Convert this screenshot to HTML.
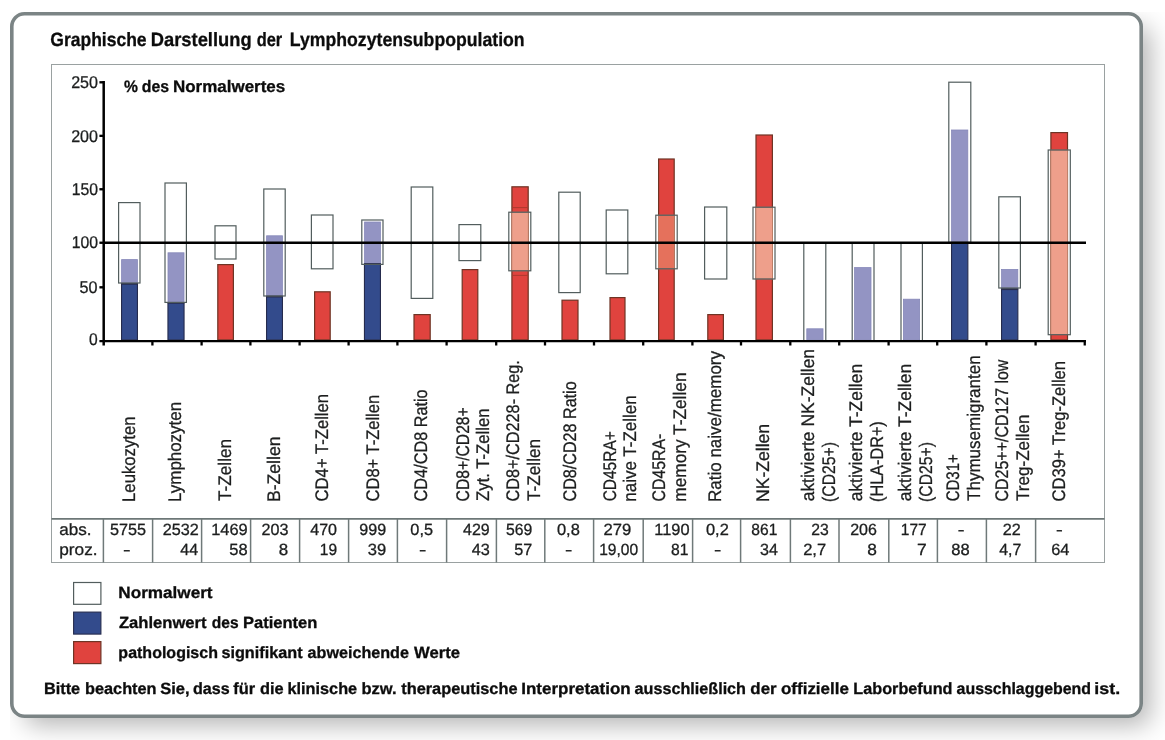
<!DOCTYPE html>
<html lang="de"><head><meta charset="utf-8"><title>Graphische Darstellung der Lymphozytensubpopulation</title>
<style>
html,body{margin:0;padding:0;background:#fff;}
body{width:1165px;height:740px;overflow:hidden;position:relative;font-family:"Liberation Sans", sans-serif;}
#frame{position:absolute;left:10px;top:12px;width:1133px;height:706px;box-sizing:border-box;border-radius:14.5px;background:#fff;box-shadow:11px 11px 26px -4px rgba(0,0,0,0.30);clip-path:inset(0px -40px -40px 0px);}
svg{position:absolute;left:0;top:0;}
text{font-family:"Liberation Sans", sans-serif;fill:#1c1e1e;stroke:#1c1e1e;stroke-width:0.3px;text-rendering:geometricPrecision;}
text.b{font-weight:bold;stroke-width:0.3px;fill:#0c0c0c;stroke:#0c0c0c;}
</style></head><body>
<div id="frame"></div>
<svg width="1165" height="740" viewBox="0 0 1165 740">

<rect x="11.8" y="13.8" width="1129.4" height="702.4" rx="12.7" ry="12.7" fill="#fff" stroke="#7b8485" stroke-width="3.6"/>
<rect x="51.5" y="64.5" width="1053" height="498" fill="none" stroke="#9aa1a1" stroke-width="1"/>
<text class="b" y="45.6" font-size="19.3"><tspan x="50.30" textLength="96.31" lengthAdjust="spacingAndGlyphs">Graphische</tspan> <tspan x="150.81" textLength="100.80" lengthAdjust="spacingAndGlyphs">Darstellung</tspan> <tspan x="256.75" textLength="25.48" lengthAdjust="spacingAndGlyphs">der</tspan> <tspan x="289.85" textLength="234.82" lengthAdjust="spacingAndGlyphs">Lymphozytensubpopulation</tspan></text>
<text class="b" y="91.5" font-size="16.6"><tspan x="124.05" textLength="13.93" lengthAdjust="spacingAndGlyphs">%</tspan> <tspan x="141.77" textLength="27.24" lengthAdjust="spacingAndGlyphs">des</tspan> <tspan x="172.90" textLength="112.37" lengthAdjust="spacingAndGlyphs">Normalwertes</tspan></text>
<rect x="121.60" y="259.60" width="15.80" height="23.80" fill="#9394c3" stroke="#8587b8" stroke-width="0.8"/>
<rect x="121.55" y="283.55" width="15.90" height="56.35" fill="#334b8c" stroke="#252b4d" stroke-width="1.1"/>
<line x1="121.30" y1="283.85" x2="137.70" y2="283.85" stroke="#2a2d4d" stroke-width="1.7"/>
<rect x="118.60" y="202.60" width="21.40" height="80.40" fill="none" stroke="#525d5d" stroke-width="1.2"/>
<rect x="168.00" y="252.80" width="16.00" height="49.60" fill="#9394c3" stroke="#8587b8" stroke-width="0.8"/>
<rect x="167.95" y="302.55" width="16.10" height="37.35" fill="#334b8c" stroke="#252b4d" stroke-width="1.1"/>
<line x1="167.70" y1="302.85" x2="184.30" y2="302.85" stroke="#2a2d4d" stroke-width="1.7"/>
<rect x="165.00" y="183.00" width="21.40" height="119.40" fill="none" stroke="#525d5d" stroke-width="1.2"/>
<rect x="217.80" y="264.60" width="15.60" height="75.30" fill="#e0433e" stroke="#6e3425" stroke-width="1.2"/>
<rect x="215.00" y="225.80" width="21.00" height="33.20" fill="none" stroke="#525d5d" stroke-width="1.2"/>
<rect x="266.60" y="235.80" width="15.80" height="60.40" fill="#9394c3" stroke="#8587b8" stroke-width="0.8"/>
<rect x="266.55" y="296.35" width="15.90" height="43.55" fill="#334b8c" stroke="#252b4d" stroke-width="1.1"/>
<line x1="266.30" y1="296.65" x2="282.70" y2="296.65" stroke="#2a2d4d" stroke-width="1.7"/>
<rect x="263.80" y="189.00" width="21.40" height="107.00" fill="none" stroke="#525d5d" stroke-width="1.2"/>
<rect x="314.60" y="291.80" width="15.60" height="48.10" fill="#e0433e" stroke="#6e3425" stroke-width="1.2"/>
<rect x="311.40" y="215.00" width="21.60" height="53.80" fill="none" stroke="#525d5d" stroke-width="1.2"/>
<rect x="364.60" y="222.00" width="15.80" height="42.00" fill="#9394c3" stroke="#8587b8" stroke-width="0.8"/>
<rect x="364.45" y="263.85" width="16.00" height="76.05" fill="#334b8c" stroke="#252b4d" stroke-width="1.1"/>
<line x1="364.20" y1="264.15" x2="380.70" y2="264.15" stroke="#2a2d4d" stroke-width="1.7"/>
<rect x="361.80" y="220.00" width="21.20" height="44.40" fill="none" stroke="#525d5d" stroke-width="1.2"/>
<rect x="414.00" y="314.60" width="16.20" height="25.30" fill="#e0433e" stroke="#6e3425" stroke-width="1.2"/>
<rect x="411.20" y="187.00" width="21.60" height="111.40" fill="none" stroke="#525d5d" stroke-width="1.2"/>
<rect x="462.20" y="269.60" width="15.60" height="70.30" fill="#e0433e" stroke="#6e3425" stroke-width="1.2"/>
<rect x="459.00" y="224.60" width="21.80" height="36.00" fill="none" stroke="#525d5d" stroke-width="1.2"/>
<rect x="511.90" y="186.80" width="16.30" height="153.10" fill="#e0433e" stroke="#6e3425" stroke-width="1.2"/>
<line x1="512.3" y1="207.6" x2="527.8" y2="207.6" stroke="#a8382c" stroke-width="0.9"/>
<line x1="512.3" y1="275.4" x2="527.8" y2="275.4" stroke="#a8382c" stroke-width="0.9"/>
<rect x="511.90" y="212.20" width="16.30" height="58.60" fill="#ee9f8b" stroke="#c4876f" stroke-width="0.8"/>
<rect x="508.80" y="212.20" width="22.00" height="58.60" fill="none" stroke="#525d5d" stroke-width="1.2"/>
<rect x="562.00" y="300.20" width="16.00" height="39.70" fill="#e0433e" stroke="#6e3425" stroke-width="1.2"/>
<rect x="558.80" y="192.20" width="21.40" height="100.40" fill="none" stroke="#525d5d" stroke-width="1.2"/>
<rect x="610.00" y="297.60" width="15.00" height="42.30" fill="#e0433e" stroke="#6e3425" stroke-width="1.2"/>
<rect x="606.20" y="210.00" width="21.60" height="63.80" fill="none" stroke="#525d5d" stroke-width="1.2"/>
<rect x="658.60" y="159.00" width="15.60" height="180.90" fill="#e0433e" stroke="#6e3425" stroke-width="1.2"/>
<rect x="658.60" y="215.20" width="15.60" height="53.60" fill="#e5715c" stroke="#c4876f" stroke-width="0.8"/>
<rect x="655.80" y="215.20" width="21.40" height="53.60" fill="none" stroke="#525d5d" stroke-width="1.2"/>
<rect x="707.80" y="314.60" width="15.60" height="25.30" fill="#e0433e" stroke="#6e3425" stroke-width="1.2"/>
<rect x="704.60" y="207.00" width="22.20" height="72.00" fill="none" stroke="#525d5d" stroke-width="1.2"/>
<rect x="756.00" y="135.00" width="16.40" height="204.90" fill="#e0433e" stroke="#6e3425" stroke-width="1.2"/>
<rect x="756.00" y="207.20" width="16.40" height="71.80" fill="#ee9f8b" stroke="#c4876f" stroke-width="0.8"/>
<rect x="753.00" y="207.20" width="22.00" height="71.80" fill="none" stroke="#525d5d" stroke-width="1.2"/>
<rect x="806.80" y="328.80" width="16.20" height="11.10" fill="#9394c3" stroke="#8587b8" stroke-width="0.8"/>
<rect x="803.80" y="242.60" width="22.00" height="98.00" fill="none" stroke="#525d5d" stroke-width="1.2"/>
<rect x="854.60" y="267.60" width="16.40" height="72.30" fill="#9394c3" stroke="#8587b8" stroke-width="0.8"/>
<rect x="852.20" y="242.60" width="21.80" height="98.00" fill="none" stroke="#525d5d" stroke-width="1.2"/>
<rect x="903.40" y="299.20" width="16.20" height="40.70" fill="#9394c3" stroke="#8587b8" stroke-width="0.8"/>
<rect x="901.00" y="242.60" width="21.40" height="98.00" fill="none" stroke="#525d5d" stroke-width="1.2"/>
<rect x="951.60" y="130.00" width="16.20" height="112.00" fill="#9394c3" stroke="#8587b8" stroke-width="0.8"/>
<rect x="951.55" y="242.55" width="16.30" height="97.35" fill="#334b8c" stroke="#252b4d" stroke-width="1.1"/>
<line x1="951.30" y1="242.85" x2="968.10" y2="242.85" stroke="#2a2d4d" stroke-width="1.7"/>
<rect x="948.80" y="82.20" width="22.00" height="160.20" fill="none" stroke="#525d5d" stroke-width="1.2"/>
<rect x="1001.60" y="269.40" width="16.20" height="19.40" fill="#9394c3" stroke="#8587b8" stroke-width="0.8"/>
<rect x="1001.55" y="288.95" width="16.30" height="50.95" fill="#334b8c" stroke="#252b4d" stroke-width="1.1"/>
<line x1="1001.30" y1="289.25" x2="1018.10" y2="289.25" stroke="#2a2d4d" stroke-width="1.7"/>
<rect x="998.80" y="196.80" width="21.60" height="91.20" fill="none" stroke="#525d5d" stroke-width="1.2"/>
<rect x="1050.90" y="132.60" width="16.60" height="207.30" fill="#e0433e" stroke="#6e3425" stroke-width="1.2"/>
<rect x="1050.90" y="150.00" width="16.60" height="184.70" fill="#ee9f8b" stroke="#c4876f" stroke-width="0.8"/>
<rect x="1048.20" y="150.00" width="22.10" height="184.70" fill="none" stroke="#525d5d" stroke-width="1.2"/>
<line x1="103" y1="242.75" x2="1086" y2="242.75" stroke="#000" stroke-width="2.5"/>
<line x1="103.7" y1="81.1" x2="103.7" y2="345.5" stroke="#000" stroke-width="2.5"/>
<line x1="99.4" y1="341.05" x2="1085.9" y2="341.05" stroke="#000" stroke-width="2.35"/>
<line x1="152.40" y1="340" x2="152.40" y2="345.5" stroke="#000" stroke-width="2.3"/>
<line x1="201.60" y1="340" x2="201.60" y2="345.5" stroke="#000" stroke-width="2.3"/>
<line x1="250.40" y1="340" x2="250.40" y2="345.5" stroke="#000" stroke-width="2.3"/>
<line x1="299.60" y1="340" x2="299.60" y2="345.5" stroke="#000" stroke-width="2.3"/>
<line x1="348.60" y1="340" x2="348.60" y2="345.5" stroke="#000" stroke-width="2.3"/>
<line x1="397.40" y1="340" x2="397.40" y2="345.5" stroke="#000" stroke-width="2.3"/>
<line x1="446.60" y1="340" x2="446.60" y2="345.5" stroke="#000" stroke-width="2.3"/>
<line x1="496.20" y1="340" x2="496.20" y2="345.5" stroke="#000" stroke-width="2.3"/>
<line x1="545.00" y1="340" x2="545.00" y2="345.5" stroke="#000" stroke-width="2.3"/>
<line x1="594.00" y1="340" x2="594.00" y2="345.5" stroke="#000" stroke-width="2.3"/>
<line x1="643.20" y1="340" x2="643.20" y2="345.5" stroke="#000" stroke-width="2.3"/>
<line x1="692.40" y1="340" x2="692.40" y2="345.5" stroke="#000" stroke-width="2.3"/>
<line x1="741.00" y1="340" x2="741.00" y2="345.5" stroke="#000" stroke-width="2.3"/>
<line x1="790.30" y1="340" x2="790.30" y2="345.5" stroke="#000" stroke-width="2.3"/>
<line x1="839.20" y1="340" x2="839.20" y2="345.5" stroke="#000" stroke-width="2.3"/>
<line x1="888.60" y1="340" x2="888.60" y2="345.5" stroke="#000" stroke-width="2.3"/>
<line x1="937.20" y1="340" x2="937.20" y2="345.5" stroke="#000" stroke-width="2.3"/>
<line x1="986.40" y1="340" x2="986.40" y2="345.5" stroke="#000" stroke-width="2.3"/>
<line x1="1035.60" y1="340" x2="1035.60" y2="345.5" stroke="#000" stroke-width="2.3"/>
<line x1="1084.75" y1="340" x2="1084.75" y2="345.5" stroke="#000" stroke-width="2.3"/>
<line x1="99.4" y1="82.30" x2="104" y2="82.30" stroke="#000" stroke-width="2.35"/>
<line x1="99.4" y1="135.85" x2="104" y2="135.85" stroke="#000" stroke-width="2.35"/>
<line x1="99.4" y1="189.25" x2="104" y2="189.25" stroke="#000" stroke-width="2.35"/>
<line x1="99.4" y1="242.75" x2="104" y2="242.75" stroke="#000" stroke-width="2.35"/>
<line x1="99.4" y1="287.30" x2="104" y2="287.30" stroke="#000" stroke-width="2.35"/>
<text x="71.20" y="87.7" font-size="17" textLength="26.82" lengthAdjust="spacingAndGlyphs">250</text>
<text x="71.20" y="141.8" font-size="17" textLength="26.82" lengthAdjust="spacingAndGlyphs">200</text>
<text x="71.72" y="194.8" font-size="17" textLength="26.29" lengthAdjust="spacingAndGlyphs">150</text>
<text x="71.72" y="247.7" font-size="17" textLength="26.29" lengthAdjust="spacingAndGlyphs">100</text>
<text x="79.55" y="292.8" font-size="17" textLength="17.99" lengthAdjust="spacingAndGlyphs">50</text>
<text x="88.91" y="344.9" font-size="17" textLength="8.69" lengthAdjust="spacingAndGlyphs">0</text>
<text transform="translate(135.0,501.94) rotate(-90)" font-size="18.2" textLength="85.42" lengthAdjust="spacingAndGlyphs">Leukozyten</text>
<text transform="translate(181.0,501.95) rotate(-90)" font-size="18.2" textLength="100.02" lengthAdjust="spacingAndGlyphs">Lymphozyten</text>
<text transform="translate(231.0,500.94) rotate(-90)" font-size="18.2" textLength="62.02" lengthAdjust="spacingAndGlyphs">T-Zellen</text>
<text transform="translate(280.0,502.01) rotate(-90)" font-size="18.2" textLength="65.53" lengthAdjust="spacingAndGlyphs">B-Zellen</text>
<text transform="translate(328.4,501.43) rotate(-90)" font-size="18.2" textLength="107.50" lengthAdjust="spacingAndGlyphs">CD4+ T-Zellen</text>
<text transform="translate(378.5,501.42) rotate(-90)" font-size="18.2" textLength="106.48" lengthAdjust="spacingAndGlyphs">CD8+ T-Zellen</text>
<text transform="translate(427.4,501.41) rotate(-90)" font-size="18.2" textLength="112.09" lengthAdjust="spacingAndGlyphs">CD4/CD8 Ratio</text>
<text transform="translate(469.0,501.38) rotate(-90)" font-size="18.2" textLength="94.14" lengthAdjust="spacingAndGlyphs">CD8+/CD28+</text>
<text transform="translate(489.0,501.10) rotate(-90)" font-size="18.2" textLength="92.77" lengthAdjust="spacingAndGlyphs">Zyt. T-Zellen</text>
<text transform="translate(519.0,501.41) rotate(-90)" font-size="18.2" textLength="141.29" lengthAdjust="spacingAndGlyphs">CD8+/CD228- Reg.</text>
<text transform="translate(539.5,500.94) rotate(-90)" font-size="18.2" textLength="62.02" lengthAdjust="spacingAndGlyphs">T-Zellen</text>
<text transform="translate(575.6,501.41) rotate(-90)" font-size="18.2" textLength="120.05" lengthAdjust="spacingAndGlyphs">CD8/CD28 Ratio</text>
<text transform="translate(616.2,501.37) rotate(-90)" font-size="18.2" textLength="70.15" lengthAdjust="spacingAndGlyphs">CD45RA+</text>
<text transform="translate(636.4,501.70) rotate(-90)" font-size="18.2" textLength="106.37" lengthAdjust="spacingAndGlyphs">naive T-Zellen</text>
<text transform="translate(665.0,501.39) rotate(-90)" font-size="18.2" textLength="67.69" lengthAdjust="spacingAndGlyphs">CD45RA-</text>
<text transform="translate(686.0,501.72) rotate(-90)" font-size="18.2" textLength="129.22" lengthAdjust="spacingAndGlyphs">memory T-Zellen</text>
<text transform="translate(721.0,501.96) rotate(-90)" font-size="18.2" textLength="150.96" lengthAdjust="spacingAndGlyphs">Ratio naive/memory</text>
<text transform="translate(768.8,502.01) rotate(-90)" font-size="18.2" textLength="78.12" lengthAdjust="spacingAndGlyphs">NK-Zellen</text>
<text transform="translate(813.6,501.34) rotate(-90)" font-size="18.2" textLength="152.44" lengthAdjust="spacingAndGlyphs">aktivierte NK-Zellen</text>
<text transform="translate(834.6,501.94) rotate(-90)" font-size="18.2" textLength="59.92" lengthAdjust="spacingAndGlyphs">(CD25+)</text>
<text transform="translate(862.3,501.34) rotate(-90)" font-size="18.2" textLength="137.46" lengthAdjust="spacingAndGlyphs">aktivierte T-Zellen</text>
<text transform="translate(882.8,501.97) rotate(-90)" font-size="18.2" textLength="80.75" lengthAdjust="spacingAndGlyphs">(HLA-DR+)</text>
<text transform="translate(911.0,501.34) rotate(-90)" font-size="18.2" textLength="137.46" lengthAdjust="spacingAndGlyphs">aktivierte T-Zellen</text>
<text transform="translate(931.6,501.94) rotate(-90)" font-size="18.2" textLength="59.92" lengthAdjust="spacingAndGlyphs">(CD25+)</text>
<text transform="translate(958.6,501.35) rotate(-90)" font-size="18.2" textLength="47.07" lengthAdjust="spacingAndGlyphs">CD31+</text>
<text transform="translate(979.7,500.94) rotate(-90)" font-size="18.2" textLength="145.63" lengthAdjust="spacingAndGlyphs">Thymusemigranten</text>
<text transform="translate(1008.0,501.40) rotate(-90)" font-size="18.2" textLength="141.74" lengthAdjust="spacingAndGlyphs">CD25++/CD127 low</text>
<text transform="translate(1028.8,500.94) rotate(-90)" font-size="18.2" textLength="86.52" lengthAdjust="spacingAndGlyphs">Treg-Zellen</text>
<text transform="translate(1064.8,501.43) rotate(-90)" font-size="18.2" textLength="140.49" lengthAdjust="spacingAndGlyphs">CD39+ Treg-Zellen</text>
<line x1="51.5" y1="518.9" x2="1104.5" y2="518.95" stroke="#6d7777" stroke-width="1.8"/>
<line x1="103.4" y1="519" x2="103.4" y2="562.5" stroke="#6f7979" stroke-width="1.5"/>
<line x1="152.6" y1="519" x2="152.6" y2="562.5" stroke="#6f7979" stroke-width="1.5"/>
<line x1="201.6" y1="519" x2="201.6" y2="562.5" stroke="#6f7979" stroke-width="1.5"/>
<line x1="250.6" y1="519" x2="250.6" y2="562.5" stroke="#6f7979" stroke-width="1.5"/>
<line x1="299.6" y1="519" x2="299.6" y2="562.5" stroke="#6f7979" stroke-width="1.5"/>
<line x1="348.6" y1="519" x2="348.6" y2="562.5" stroke="#6f7979" stroke-width="1.5"/>
<line x1="397.4" y1="519" x2="397.4" y2="562.5" stroke="#6f7979" stroke-width="1.5"/>
<line x1="446.6" y1="519" x2="446.6" y2="562.5" stroke="#6f7979" stroke-width="1.5"/>
<line x1="496.4" y1="519" x2="496.4" y2="562.5" stroke="#6f7979" stroke-width="1.5"/>
<line x1="544.8" y1="519" x2="544.8" y2="562.5" stroke="#6f7979" stroke-width="1.5"/>
<line x1="593.6" y1="519" x2="593.6" y2="562.5" stroke="#6f7979" stroke-width="1.5"/>
<line x1="643.2" y1="519" x2="643.2" y2="562.5" stroke="#6f7979" stroke-width="1.5"/>
<line x1="692.6" y1="519" x2="692.6" y2="562.5" stroke="#6f7979" stroke-width="1.5"/>
<line x1="740.6" y1="519" x2="740.6" y2="562.5" stroke="#6f7979" stroke-width="1.5"/>
<line x1="790.4" y1="519" x2="790.4" y2="562.5" stroke="#6f7979" stroke-width="1.5"/>
<line x1="839.0" y1="519" x2="839.0" y2="562.5" stroke="#6f7979" stroke-width="1.5"/>
<line x1="888.8" y1="519" x2="888.8" y2="562.5" stroke="#6f7979" stroke-width="1.5"/>
<line x1="937.4" y1="519" x2="937.4" y2="562.5" stroke="#6f7979" stroke-width="1.5"/>
<line x1="986.4" y1="519" x2="986.4" y2="562.5" stroke="#6f7979" stroke-width="1.5"/>
<line x1="1035.6" y1="519" x2="1035.6" y2="562.5" stroke="#6f7979" stroke-width="1.5"/>
<text x="59.27" y="534.9" font-size="16.3" textLength="32.27" lengthAdjust="spacingAndGlyphs">abs.</text>
<text x="59.22" y="554.7" font-size="16.3" textLength="38.34" lengthAdjust="spacingAndGlyphs">proz.</text>
<text x="109.95" y="534.9" font-size="16.3" textLength="36.13" lengthAdjust="spacingAndGlyphs">5755</text>
<text x="162.79" y="534.9" font-size="16.3" textLength="36.01" lengthAdjust="spacingAndGlyphs">2532</text>
<text x="211.17" y="534.9" font-size="16.3" textLength="36.61" lengthAdjust="spacingAndGlyphs">1469</text>
<text x="261.59" y="534.9" font-size="16.3" textLength="26.91" lengthAdjust="spacingAndGlyphs">203</text>
<text x="310.24" y="534.9" font-size="16.3" textLength="26.78" lengthAdjust="spacingAndGlyphs">470</text>
<text x="359.28" y="534.9" font-size="16.3" textLength="26.87" lengthAdjust="spacingAndGlyphs">999</text>
<text x="410.39" y="534.9" font-size="16.3" textLength="22.67" lengthAdjust="spacingAndGlyphs">0,5</text>
<text x="463.04" y="534.9" font-size="16.3" textLength="26.70" lengthAdjust="spacingAndGlyphs">429</text>
<text x="505.97" y="534.9" font-size="16.3" textLength="26.36" lengthAdjust="spacingAndGlyphs">569</text>
<text x="556.98" y="534.9" font-size="16.3" textLength="22.88" lengthAdjust="spacingAndGlyphs">0,8</text>
<text x="603.57" y="534.9" font-size="16.3" textLength="27.80" lengthAdjust="spacingAndGlyphs">279</text>
<text x="654.37" y="534.9" font-size="16.3" textLength="35.25" lengthAdjust="spacingAndGlyphs">1190</text>
<text x="705.99" y="534.9" font-size="16.3" textLength="22.80" lengthAdjust="spacingAndGlyphs">0,2</text>
<text x="751.34" y="534.9" font-size="16.3" textLength="26.02" lengthAdjust="spacingAndGlyphs">861</text>
<text x="811.21" y="534.9" font-size="16.3" textLength="17.49" lengthAdjust="spacingAndGlyphs">23</text>
<text x="850.20" y="534.9" font-size="16.3" textLength="26.70" lengthAdjust="spacingAndGlyphs">206</text>
<text x="900.83" y="534.9" font-size="16.3" textLength="25.92" lengthAdjust="spacingAndGlyphs">177</text>
<text x="957.74" y="534.9" font-size="16.3" textLength="6.73" lengthAdjust="spacingAndGlyphs">-</text>
<text x="1002.79" y="534.9" font-size="16.3" textLength="18.02" lengthAdjust="spacingAndGlyphs">22</text>
<text x="1056.14" y="534.9" font-size="16.3" textLength="6.73" lengthAdjust="spacingAndGlyphs">-</text>
<text x="123.04" y="554.8" font-size="16.3" textLength="7.53" lengthAdjust="spacingAndGlyphs">-</text>
<text x="180.24" y="554.8" font-size="16.3" textLength="17.84" lengthAdjust="spacingAndGlyphs">44</text>
<text x="229.34" y="554.8" font-size="16.3" textLength="18.36" lengthAdjust="spacingAndGlyphs">58</text>
<text x="278.68" y="554.8" font-size="16.3" textLength="9.42" lengthAdjust="spacingAndGlyphs">8</text>
<text x="319.83" y="554.8" font-size="16.3" textLength="17.30" lengthAdjust="spacingAndGlyphs">19</text>
<text x="367.78" y="554.8" font-size="16.3" textLength="18.40" lengthAdjust="spacingAndGlyphs">39</text>
<text x="419.07" y="554.8" font-size="16.3" textLength="7.27" lengthAdjust="spacingAndGlyphs">-</text>
<text x="471.63" y="554.8" font-size="16.3" textLength="18.10" lengthAdjust="spacingAndGlyphs">43</text>
<text x="514.35" y="554.8" font-size="16.3" textLength="18.06" lengthAdjust="spacingAndGlyphs">57</text>
<text x="565.07" y="554.8" font-size="16.3" textLength="7.27" lengthAdjust="spacingAndGlyphs">-</text>
<text x="599.23" y="554.8" font-size="16.3" textLength="38.95" lengthAdjust="spacingAndGlyphs">19,00</text>
<text x="670.93" y="554.8" font-size="16.3" textLength="17.45" lengthAdjust="spacingAndGlyphs">81</text>
<text x="714.07" y="554.8" font-size="16.3" textLength="7.27" lengthAdjust="spacingAndGlyphs">-</text>
<text x="760.00" y="554.8" font-size="16.3" textLength="17.88" lengthAdjust="spacingAndGlyphs">34</text>
<text x="803.17" y="554.8" font-size="16.3" textLength="23.02" lengthAdjust="spacingAndGlyphs">2,7</text>
<text x="867.26" y="554.8" font-size="16.3" textLength="9.65" lengthAdjust="spacingAndGlyphs">8</text>
<text x="917.13" y="554.8" font-size="16.3" textLength="9.73" lengthAdjust="spacingAndGlyphs">7</text>
<text x="951.30" y="554.8" font-size="16.3" textLength="18.40" lengthAdjust="spacingAndGlyphs">88</text>
<text x="999.24" y="554.8" font-size="16.3" textLength="22.12" lengthAdjust="spacingAndGlyphs">4,7</text>
<text x="1051.18" y="554.8" font-size="16.3" textLength="18.31" lengthAdjust="spacingAndGlyphs">64</text>
<rect x="73.6" y="582.5" width="27.3" height="21.8" fill="#fff" stroke="#525d5d" stroke-width="1.2"/>
<rect x="73.6" y="612.1" width="27.3" height="22" fill="#334b8c" stroke="#252b4d" stroke-width="1.1"/>
<rect x="73.6" y="641.6" width="27.3" height="22" fill="#e0433e" stroke="#6e3425" stroke-width="1.2"/>
<text class="b" y="597.6" font-size="16.2"><tspan x="118.29" textLength="94.31" lengthAdjust="spacingAndGlyphs">Normalwert</tspan></text>
<text class="b" y="627.6" font-size="16.2"><tspan x="118.94" textLength="87.65" lengthAdjust="spacingAndGlyphs">Zahlenwert</tspan> <tspan x="211.78" textLength="26.82" lengthAdjust="spacingAndGlyphs">des</tspan> <tspan x="242.92" textLength="74.49" lengthAdjust="spacingAndGlyphs">Patienten</tspan></text>
<text class="b" y="658.0" font-size="16.2"><tspan x="118.36" textLength="99.60" lengthAdjust="spacingAndGlyphs">pathologisch</tspan> <tspan x="221.43" textLength="81.14" lengthAdjust="spacingAndGlyphs">signifikant</tspan> <tspan x="307.56" textLength="101.37" lengthAdjust="spacingAndGlyphs">abweichende</tspan> <tspan x="414.00" textLength="45.95" lengthAdjust="spacingAndGlyphs">Werte</tspan></text>
<text class="b" y="693.5" font-size="16.2"><tspan x="43.94" textLength="36.23" lengthAdjust="spacingAndGlyphs">Bitte</tspan> <tspan x="84.94" textLength="71.64" lengthAdjust="spacingAndGlyphs">beachten</tspan> <tspan x="160.15" textLength="29.35" lengthAdjust="spacingAndGlyphs">Sie,</tspan> <tspan x="192.96" textLength="36.68" lengthAdjust="spacingAndGlyphs">dass</tspan> <tspan x="233.35" textLength="21.86" lengthAdjust="spacingAndGlyphs">für</tspan> <tspan x="259.95" textLength="23.62" lengthAdjust="spacingAndGlyphs">die</tspan> <tspan x="287.50" textLength="69.63" lengthAdjust="spacingAndGlyphs">klinische</tspan> <tspan x="361.53" textLength="35.18" lengthAdjust="spacingAndGlyphs">bzw.</tspan> <tspan x="401.24" textLength="116.31" lengthAdjust="spacingAndGlyphs">therapeutische</tspan> <tspan x="521.30" textLength="109.32" lengthAdjust="spacingAndGlyphs">Interpretation</tspan> <tspan x="634.56" textLength="111.45" lengthAdjust="spacingAndGlyphs">ausschließlich</tspan> <tspan x="750.32" textLength="26.31" lengthAdjust="spacingAndGlyphs">der</tspan> <tspan x="780.96" textLength="68.00" lengthAdjust="spacingAndGlyphs">offizielle</tspan> <tspan x="853.35" textLength="99.12" lengthAdjust="spacingAndGlyphs">Laborbefund</tspan> <tspan x="956.56" textLength="134.51" lengthAdjust="spacingAndGlyphs">ausschlaggebend</tspan> <tspan x="1094.39" textLength="25.81" lengthAdjust="spacingAndGlyphs">ist.</tspan></text>
</svg></body></html>
